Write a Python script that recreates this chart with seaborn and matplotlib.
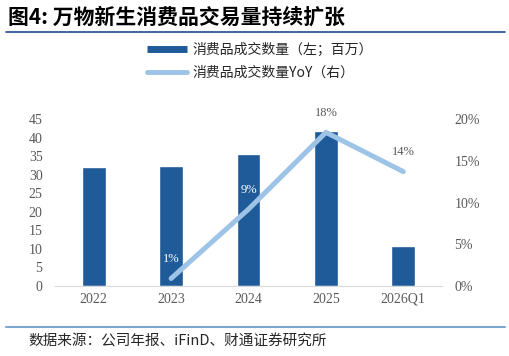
import matplotlib
matplotlib.use('Agg')
import matplotlib.pyplot as plt
import seaborn as sns
import pandas as pd
from matplotlib.lines import Line2D
from matplotlib.ticker import FuncFormatter

categories = ['2022', '2023', '2024', '2025', '2026Q1']
volume = [32.0, 32.4, 35.5, 41.9, 10.8]          # 消费品成交数量（百万）
yoy_years = ['2023', '2024', '2025', '2026Q1']
yoy = [0.009, 0.092, 0.184, 0.137]                # 同比
yoy_labels = ['1%', '9%', '18%', '14%']

BAR = '#1f5a99'
LINE = '#9dc3e6'
GREY = '#595959'
CJK = ['Noto Sans CJK SC', 'DejaVu Sans']
SERIF = 'Liberation Serif'

sns.set_style('white')
plt.rcParams['font.family'] = CJK

fig = plt.figure(figsize=(5.1, 3.56), dpi=100)
ax = fig.add_axes([55 / 510, 70 / 356, 387 / 510, 167 / 356])

df = pd.DataFrame({'year': categories, 'vol': volume})
sns.barplot(data=df, x='year', y='vol', color=BAR, width=0.31, saturation=1, ax=ax)
ax.set_ylim(0, 45)
ax.set_yticks(range(0, 50, 5))
ax.set_xlabel('')
ax.set_ylabel('')

ax2 = ax.twinx()
xpos = [categories.index(y) for y in yoy_years]
dl = pd.DataFrame({'x': xpos, 'yoy': yoy})
sns.lineplot(data=dl, x='x', y='yoy', color=LINE, linewidth=3.6, ax=ax2)
ax2.set_ylim(0, 0.20)
ax2.set_yticks([0, 0.05, 0.10, 0.15, 0.20])
ax2.yaxis.set_major_formatter(FuncFormatter(lambda v, _: f'{v*100:.0f}%'))
ax2.set_ylabel('')
ax2.set_xlim(-0.5, len(categories) - 0.5)
ax.set_xlim(-0.5, len(categories) - 0.5)

for i, (x, v, lab) in enumerate(zip(xpos, yoy, yoy_labels)):
    col = 'white' if i < 2 else GREY
    ax2.annotate(lab, (x, v), xytext=(0, 14), textcoords='offset points',
                 ha='center', va='center', fontsize=9, color=col, family=SERIF)

for a in (ax, ax2):
    for s in a.spines.values():
        s.set_visible(False)
    a.tick_params(length=0, labelsize=10, colors=GREY)
    for t in a.get_xticklabels() + a.get_yticklabels():
        t.set_family(SERIF)
ax.spines['bottom'].set_visible(True)
ax.spines['bottom'].set_color('#d9d9d9')
ax.tick_params(axis='x', pad=5)
ax.tick_params(axis='y', pad=9)
ax2.tick_params(axis='y', pad=9)

handles = [Line2D([], [], color=BAR, linewidth=5, solid_capstyle='butt'),
           Line2D([], [], color=LINE, linewidth=3.5, solid_capstyle='round')]
fig.legend(handles, ['消费品成交数量（左；百万）', '消费品成交数量YoY（右）'],
           loc='center left', bbox_to_anchor=(147 / 510, 1 - 61.5 / 356), frameon=False,
           borderpad=0, borderaxespad=0, handlelength=2.9, handletextpad=0.35,
           labelspacing=0.65, prop={'family': CJK, 'size': 10}, labelcolor='#262626')

fig.text(8 / 510, 1 - 17 / 356, '图4: 万物新生消费品交易量持续扩张', fontsize=15,
         fontweight='bold', va='center', ha='left', color='black', family=CJK)
fig.add_artist(Line2D([6 / 510, 505 / 510], [1 - 32 / 356] * 2, color='#1f4e8c', linewidth=1.2))
fig.add_artist(Line2D([6 / 510, 505 / 510], [1 - 327 / 356] * 2, color='#7ea6d3', linewidth=1.5))
fig.text(28 / 510, 1 - 342 / 356, '数据来源：公司年报、iFinD、财通证券研究所', fontsize=10.5,
         va='center', ha='left', color='#262626', family=CJK)

fig.savefig('out.png', dpi=100)
